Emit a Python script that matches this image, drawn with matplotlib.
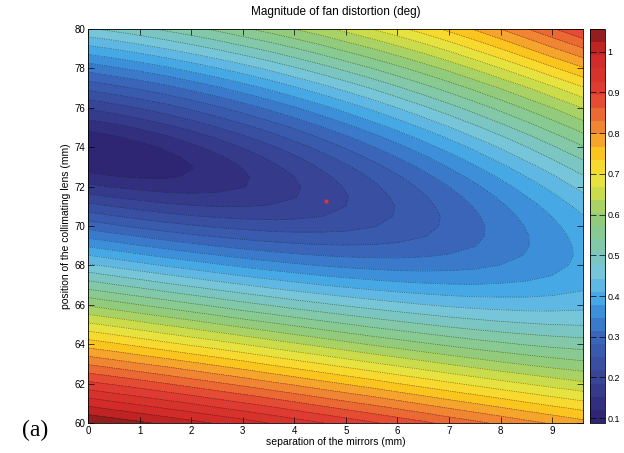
import numpy as np
import matplotlib
matplotlib.use("Agg")
import matplotlib.pyplot as plt
from matplotlib.colors import LinearSegmentedColormap

# ---- data ----
x_mm = [0, 0.5, 1, 1.5, 2, 2.5, 3, 3.5, 4, 4.5, 5, 5.5, 6, 6.5, 7, 7.5, 8, 8.5, 9, 9.6]
y_mm = [60, 61, 62, 63, 64, 65, 66, 67, 67.5, 68, 68.5, 69, 69.5, 70, 70.5,
        71, 71.5, 72, 72.5, 73, 73.5, 74, 74.5, 75, 76, 77, 78, 79, 80]
# rows follow y_mm, columns follow x_mm
distortion = [
    [1.056, 1.043, 1.030, 1.016, 1.002, 0.988, 0.974, 0.959, 0.944, 0.929, 0.914, 0.899, 0.884, 0.869, 0.853, 0.838, 0.823, 0.808, 0.794, 0.777],
    [0.980, 0.966, 0.953, 0.939, 0.926, 0.911, 0.897, 0.883, 0.868, 0.853, 0.838, 0.824, 0.809, 0.794, 0.779, 0.765, 0.751, 0.737, 0.724, 0.709],
    [0.903, 0.890, 0.877, 0.863, 0.849, 0.835, 0.821, 0.806, 0.792, 0.777, 0.763, 0.749, 0.734, 0.720, 0.706, 0.693, 0.680, 0.668, 0.656, 0.643],
    [0.827, 0.814, 0.800, 0.787, 0.773, 0.759, 0.745, 0.730, 0.716, 0.702, 0.688, 0.674, 0.661, 0.648, 0.635, 0.623, 0.611, 0.601, 0.591, 0.581],
    [0.751, 0.738, 0.724, 0.710, 0.696, 0.683, 0.669, 0.655, 0.641, 0.628, 0.614, 0.601, 0.589, 0.577, 0.566, 0.555, 0.546, 0.537, 0.530, 0.524],
    [0.675, 0.662, 0.648, 0.634, 0.621, 0.607, 0.593, 0.580, 0.567, 0.554, 0.542, 0.530, 0.519, 0.509, 0.499, 0.491, 0.484, 0.479, 0.475, 0.473],
    [0.600, 0.586, 0.572, 0.559, 0.545, 0.532, 0.518, 0.506, 0.493, 0.482, 0.471, 0.461, 0.452, 0.444, 0.437, 0.432, 0.429, 0.427, 0.428, 0.432],
    [0.524, 0.510, 0.497, 0.483, 0.470, 0.457, 0.445, 0.433, 0.422, 0.412, 0.403, 0.395, 0.389, 0.384, 0.381, 0.380, 0.382, 0.385, 0.391, 0.402],
    [0.487, 0.473, 0.459, 0.446, 0.433, 0.420, 0.408, 0.397, 0.387, 0.378, 0.370, 0.364, 0.359, 0.357, 0.356, 0.358, 0.362, 0.369, 0.378, 0.392],
    [0.449, 0.435, 0.422, 0.408, 0.396, 0.384, 0.372, 0.362, 0.353, 0.345, 0.339, 0.335, 0.332, 0.332, 0.335, 0.339, 0.347, 0.356, 0.369, 0.387],
    [0.412, 0.398, 0.384, 0.371, 0.359, 0.348, 0.337, 0.328, 0.320, 0.314, 0.310, 0.308, 0.308, 0.311, 0.316, 0.324, 0.335, 0.348, 0.364, 0.385],
    [0.374, 0.361, 0.347, 0.335, 0.323, 0.312, 0.303, 0.295, 0.289, 0.285, 0.283, 0.284, 0.287, 0.293, 0.302, 0.313, 0.327, 0.344, 0.363, 0.387],
    [0.337, 0.324, 0.311, 0.298, 0.287, 0.278, 0.270, 0.263, 0.259, 0.258, 0.259, 0.263, 0.270, 0.280, 0.292, 0.307, 0.325, 0.344, 0.365, 0.392],
    [0.301, 0.287, 0.274, 0.263, 0.253, 0.244, 0.238, 0.234, 0.233, 0.235, 0.239, 0.247, 0.258, 0.272, 0.288, 0.306, 0.326, 0.348, 0.371, 0.399],
    [0.264, 0.251, 0.239, 0.228, 0.219, 0.213, 0.209, 0.208, 0.210, 0.216, 0.225, 0.237, 0.252, 0.269, 0.288, 0.309, 0.332, 0.355, 0.379, 0.409],
    [0.229, 0.216, 0.205, 0.195, 0.188, 0.184, 0.184, 0.187, 0.193, 0.203, 0.217, 0.233, 0.251, 0.272, 0.293, 0.316, 0.340, 0.365, 0.390, 0.422],
    [0.194, 0.182, 0.172, 0.164, 0.160, 0.160, 0.164, 0.171, 0.183, 0.198, 0.215, 0.235, 0.256, 0.278, 0.302, 0.326, 0.352, 0.378, 0.404, 0.437],
    [0.161, 0.150, 0.142, 0.137, 0.137, 0.142, 0.151, 0.164, 0.180, 0.199, 0.220, 0.242, 0.265, 0.289, 0.314, 0.340, 0.366, 0.393, 0.420, 0.454],
    [0.131, 0.122, 0.117, 0.117, 0.123, 0.133, 0.148, 0.165, 0.185, 0.207, 0.230, 0.253, 0.278, 0.304, 0.330, 0.356, 0.383, 0.411, 0.438, 0.472],
    [0.107, 0.101, 0.101, 0.108, 0.119, 0.135, 0.154, 0.174, 0.197, 0.220, 0.244, 0.269, 0.295, 0.321, 0.348, 0.375, 0.402, 0.430, 0.458, 0.493],
    [0.092, 0.092, 0.099, 0.111, 0.127, 0.146, 0.167, 0.190, 0.213, 0.238, 0.263, 0.289, 0.315, 0.341, 0.368, 0.396, 0.424, 0.452, 0.480, 0.514],
    [0.092, 0.098, 0.110, 0.125, 0.144, 0.165, 0.187, 0.210, 0.234, 0.259, 0.285, 0.311, 0.337, 0.364, 0.391, 0.418, 0.446, 0.474, 0.503, 0.537],
    [0.106, 0.116, 0.130, 0.147, 0.167, 0.188, 0.211, 0.234, 0.259, 0.284, 0.309, 0.335, 0.361, 0.388, 0.415, 0.443, 0.470, 0.498, 0.527, 0.561],
    [0.129, 0.141, 0.157, 0.175, 0.194, 0.216, 0.238, 0.261, 0.285, 0.310, 0.335, 0.361, 0.387, 0.414, 0.441, 0.468, 0.496, 0.524, 0.552, 0.586],
    [0.189, 0.203, 0.219, 0.236, 0.256, 0.276, 0.298, 0.320, 0.343, 0.367, 0.392, 0.417, 0.443, 0.469, 0.495, 0.522, 0.549, 0.577, 0.604, 0.638],
    [0.257, 0.271, 0.286, 0.303, 0.322, 0.341, 0.362, 0.383, 0.406, 0.429, 0.453, 0.477, 0.502, 0.527, 0.553, 0.579, 0.606, 0.633, 0.662, 0.697],
    [0.327, 0.341, 0.356, 0.372, 0.390, 0.409, 0.428, 0.449, 0.471, 0.493, 0.516, 0.539, 0.563, 0.588, 0.613, 0.640, 0.668, 0.697, 0.727, 0.762],
    [0.399, 0.412, 0.427, 0.443, 0.460, 0.478, 0.497, 0.516, 0.537, 0.558, 0.581, 0.603, 0.627, 0.651, 0.677, 0.705, 0.733, 0.763, 0.793, 0.828],
    [0.471, 0.484, 0.498, 0.514, 0.530, 0.547, 0.566, 0.585, 0.605, 0.625, 0.647, 0.669, 0.692, 0.716, 0.742, 0.769, 0.798, 0.828, 0.858, 0.895],
]
marker_x = [4.62]
marker_y = [71.27]
z_min, z_max, n_bands = 0.088, 1.056, 30
x_ticks = [0, 1, 2, 3, 4, 5, 6, 7, 8, 9]
y_ticks = [60, 62, 64, 66, 68, 70, 72, 74, 76, 78, 80]
cbar_ticks = [0.1, 0.2, 0.3, 0.4, 0.5, 0.6, 0.7, 0.8, 0.9, 1.0]
cbar_labels = ["0.1", "0.2", "0.3", "0.4", "0.5", "0.6", "0.7", "0.8", "0.9", "1"]

# ---- style ----
plt.rcParams['font.family'] = ['Liberation Sans', 'DejaVu Sans']
cmap = LinearSegmentedColormap.from_list("softjet", [
    (0.000, (0.18, 0.13, 0.43)),
    (0.116, (0.22, 0.27, 0.59)),
    (0.219, (0.23, 0.40, 0.73)),
    (0.271, (0.23, 0.53, 0.84)),
    (0.322, (0.28, 0.67, 0.90)),
    (0.374, (0.46, 0.77, 0.88)),
    (0.426, (0.49, 0.78, 0.73)),
    (0.477, (0.53, 0.79, 0.59)),
    (0.529, (0.59, 0.80, 0.46)),
    (0.581, (0.78, 0.86, 0.30)),
    (0.632, (0.96, 0.90, 0.22)),
    (0.684, (0.98, 0.77, 0.12)),
    (0.736, (0.95, 0.58, 0.20)),
    (0.788, (0.92, 0.40, 0.20)),
    (0.839, (0.88, 0.24, 0.20)),
    (0.942, (0.80, 0.15, 0.15)),
    (1.000, (0.50, 0.10, 0.10)),
])

fig = plt.figure(figsize=(6.24, 4.53), dpi=100)
W, H = 624.0, 453.0
ax = fig.add_axes([88 / W, 1 - 423 / H, 495 / W, 394 / H])
cax = fig.add_axes([590 / W, 1 - 423 / H, 15 / W, 394 / H])

X, Y = np.meshgrid(x_mm, y_mm)
Z = np.array(distortion)
levels = np.linspace(z_min, z_max, n_bands + 1)
cf = ax.contourf(X, Y, Z, levels=levels, cmap=cmap, vmin=z_min, vmax=z_max)
ax.contour(X, Y, Z, levels=levels, colors='k', linestyles=[(0, (1, 1.6))],
           linewidths=0.5, alpha=0.65)
ax.plot(marker_x, marker_y, 'o', color=(0.9, 0.2, 0.2), ms=3, mec='none')

ax.set_xlim(x_mm[0], x_mm[-1])
ax.set_ylim(y_mm[0], y_mm[-1])
ax.set_xticks(x_ticks)
ax.set_yticks(y_ticks)
ax.tick_params(direction='in', length=4, width=0.5, labelsize=7, pad=2,
               top=True, right=True)
for s in ax.spines.values():
    s.set_linewidth(0.6)
ax.set_title("Magnitude of fan distortion (deg)", fontsize=8.5, pad=10)
ax.set_xlabel("separation of the mirrors (mm)", fontsize=7.5, labelpad=1)
ax.set_ylabel("position of the collimating lens (mm)", fontsize=7.5, labelpad=2)

cb = fig.colorbar(cf, cax=cax, ticks=cbar_ticks)
cb.ax.set_yticklabels(cbar_labels)
cb.ax.tick_params(direction='in', length=4, width=0.5, labelsize=6.5, pad=2,
                  left=True, right=True)
cb.outline.set_linewidth(0.6)

fig.text(35 / W, 1 - 430 / H, "(a)", fontsize=17, ha='center', va='center',
         family=['Liberation Serif', 'DejaVu Serif'])

fig.savefig("out.png", dpi=100)
